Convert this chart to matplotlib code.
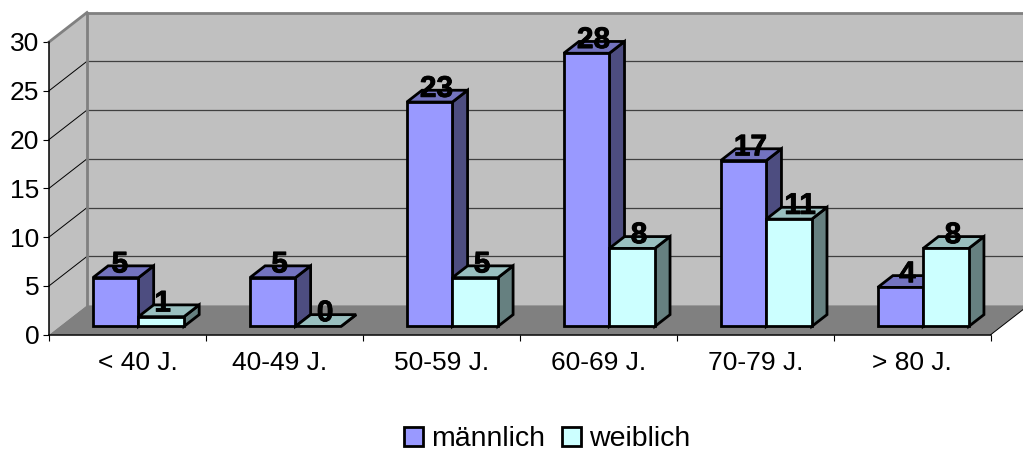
import matplotlib
matplotlib.use('Agg')
from matplotlib import pyplot as plt
from matplotlib.patches import Polygon, Patch
from matplotlib import patheffects

plt.rcParams['font.family'] = ['Liberation Sans', 'DejaVu Sans']

categories = ['< 40 J.', '40-49 J.', '50-59 J.', '60-69 J.', '70-79 J.', '> 80 J.']
maennlich = [5, 5, 23, 28, 17, 4]
weiblich = [1, 0, 5, 8, 11, 8]
y_ticks = [0, 5, 10, 15, 20, 25, 30]

W, H = 1023, 449
fig = plt.figure(figsize=(W / 100, H / 100), dpi=100, facecolor='white')
ax = fig.add_axes([49 / W, (H - 334.7) / H, 941.7 / W, 292.7 / H])
ax.set_xlim(0, 6)
ax.set_ylim(0, 30)
ax.patch.set_visible(False)

# depth of the box in data units
DX = 38 / 157
DY = 29.5 / 9.757
BAR_W = 0.29
BAR_START = 0.28   # bar front sits this far into the depth
BAR_DEPTH = 0.40
BAR_SHIFT = 11 / 157


def poly(pts, fc, ec='none', lw=0, z=1):
    ax.add_patch(Polygon(pts, closed=True, facecolor=fc, edgecolor=ec, linewidth=lw,
                         joinstyle='miter', clip_on=False, zorder=z))


def line(xs, ys, color, lw, z=2):
    ax.plot(xs, ys, color=color, lw=lw, clip_on=False, zorder=z, solid_capstyle='projecting')


# walls and floor
poly([(DX, DY), (6 + DX, DY), (6 + DX, 30 + DY), (DX, 30 + DY)], '#C0C0C0')
poly([(0, 0), (DX, DY), (DX, 30 + DY), (0, 30)], '#C0C0C0')
poly([(0, 0), (6, 0), (6 + DX, DY), (DX, DY)], '#808080')

for v in y_ticks[1:-1]:
    line([DX, 6 + DX], [v + DY, v + DY], '#404040', 0.9)
    line([0, DX], [v, v + DY], 'black', 0.7)

line([DX, DX], [DY, 30 + DY], '#808080', 2.0, z=3)
line([DX, 6 + DX], [30 + DY, 30 + DY], '#808080', 2.0, z=3)
line([0, DX], [30, 30 + DY], '#808080', 2.0, z=3)
line([6, 6 + DX], [0, DY], 'black', 0.7, z=3)


def draw_bar(x, value, front, top, side, nudge=0):
    ox = x + DX * BAR_START
    oy = DY * BAR_START
    ddx = DX * BAR_DEPTH
    ddy = DY * BAR_DEPTH
    edge = dict(ec='black', lw=2.0, z=5)
    poly([(ox + BAR_W, oy), (ox + BAR_W + ddx, oy + ddy),
          (ox + BAR_W + ddx, oy + ddy + value), (ox + BAR_W, oy + value)], side, **edge)
    poly([(ox, oy + value), (ox + BAR_W, oy + value),
          (ox + BAR_W + ddx, oy + ddy + value), (ox + ddx, oy + ddy + value)], top, **edge)
    if value > 0:
        poly([(ox, oy), (ox + BAR_W, oy), (ox + BAR_W, oy + value), (ox, oy + value)], front, **edge)
    txt = ax.annotate(str(value), (ox + BAR_W / 2, oy + value), xytext=(5 + nudge, 9.5),
                      textcoords='offset points', ha='center', va='center',
                      fontsize=21.5, fontweight='bold', color='black', zorder=8,
                      annotation_clip=False)
    txt.set_path_effects([patheffects.withStroke(linewidth=0.6, foreground='black')])


# a few value labels sit off the regular spot
nudge_m = [-2, 0, 0, 0, 0, 0]
nudge_w = [-4, 0, 0, 0, 3, 0]

for i in range(len(categories)):
    centre = i + 0.5 + BAR_SHIFT - DX * BAR_START
    draw_bar(centre - BAR_W, maennlich[i], '#9999FF', '#7373BF', '#4D4D80', nudge_m[i])
    draw_bar(centre, weiblich[i], '#CCFFFF', '#99BFBF', '#668080', nudge_w[i])

# axes
for s in ['top', 'right']:
    ax.spines[s].set_visible(False)
for s in ['left', 'bottom']:
    ax.spines[s].set_linewidth(1.1)
    ax.spines[s].set_zorder(4)

ax.set_yticks(y_ticks)
ax.tick_params(axis='y', length=4, width=0.8, pad=3, labelsize=19)
ax.set_xticks(range(7))
ax.set_xticklabels([])
ax.tick_params(axis='x', which='major', length=4, width=0.8)

# first two labels sit a little off the category centre
label_nudge = [10.5, -5, 0, 0, 0, 0]
ax.set_xticks([i + 0.5 + label_nudge[i] / 157 for i in range(6)], minor=True)
ax.set_xticklabels(categories, minor=True)
ax.tick_params(axis='x', which='minor', length=0, pad=12, labelsize=19)

handles = [Patch(facecolor='#9999FF', edgecolor='black', linewidth=2.0, label='männlich'),
           Patch(facecolor='#CCFFFF', edgecolor='black', linewidth=2.0, label='weiblich')]
fig.legend(handles=handles, loc='center', bbox_to_anchor=(547 / W, (H - 439.5) / H), ncol=2,
           frameon=False, fontsize=20.5, handlelength=0.68, handleheight=0.68,
           handletextpad=0.28, columnspacing=0.6, borderpad=0, labelspacing=0)

fig.savefig('out.png', dpi=100)
